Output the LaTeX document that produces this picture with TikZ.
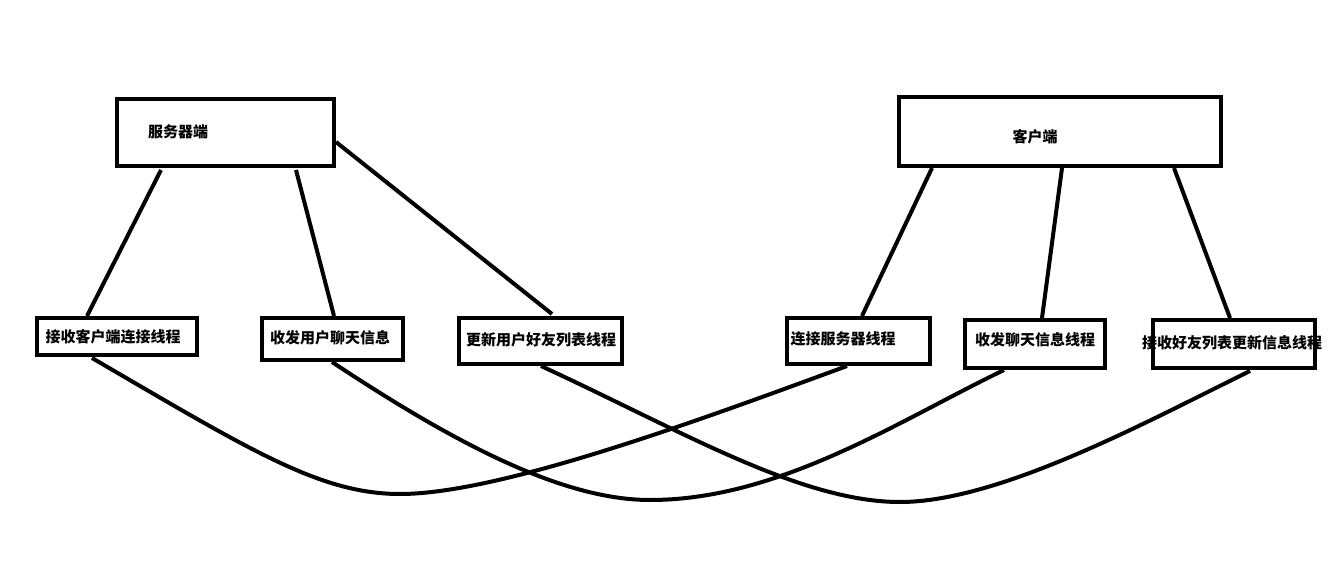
\documentclass[tikz,border=0pt]{standalone}
\usepackage{fontspec}
\setmainfont{Noto Sans CJK SC}
\begin{document}
\begin{tikzpicture}[x=1pt,y=-1pt,line width=4pt,
 box/.style={draw,line width=4pt},
 lbl/.style={font=\fontsize{15}{15}\selectfont\bfseries,inner sep=0pt},
 ln/.style={line width=4pt}]
\useasboundingbox (0,0) rectangle (1338,577);
\draw[box] (117,99) rectangle (334,166);
\draw[box] (899,97) rectangle (1221,166);
\draw[box] (37,318) rectangle (197,355);
\draw[box] (262,318) rectangle (403,360);
\draw[box] (459,318) rectangle (622,364);
\draw[box] (787,318) rectangle (930,364);
\draw[box] (965,320) rectangle (1105,368);
\draw[box] (1153,320) rectangle (1315,368);
\node[lbl] (s) at (178,132) {服务器端};
\node[lbl] (c) at (1035,137) {客户端};
\node[lbl] (b1) at (113,337) {接收客户端连接线程};
\node[lbl] (b2) at (330,338) {收发用户聊天信息};
\node[lbl] (b3) at (541,340) {更新用户好友列表线程};
\node[lbl] (b4) at (843,339) {连接服务器线程};
\node[lbl] (b5) at (1035,340) {收发聊天信息线程};
\node[lbl] (b6) at (1232,343) {接收好友列表更新信息线程};
\coordinate (s1) at (161,170); \coordinate (t1) at (87,316);
\coordinate (s2) at (296,170); \coordinate (t2) at (334,316);
\coordinate (s3) at (336,142); \coordinate (t3) at (552,314);
\coordinate (c1) at (932,168); \coordinate (u1) at (862,316);
\coordinate (c2) at (1062,168); \coordinate (u2) at (1042,318);
\coordinate (c3) at (1174,168); \coordinate (u3) at (1230,318);
\draw[ln] (s1)--(t1); \draw[ln] (s2)--(t2); \draw[ln] (s3)--(t3);
\draw[ln] (c1)--(u1); \draw[ln] (c2)--(u2); \draw[ln] (c3)--(u3);
\coordinate (p1) at (92,358); \coordinate (q1) at (847,366);
\coordinate (p2) at (332,362); \coordinate (q2) at (1004,370);
\coordinate (p3) at (541,366); \coordinate (q3) at (1250,371);
\draw[ln] (p1) .. controls (250,450) and (320,494) .. (400,494) .. controls (500,494) and (700,420) .. (q1);
\draw[ln] (p2) .. controls (450,440) and (560,500) .. (650,500) .. controls (780,500) and (900,420) .. (q2);
\draw[ln] (p3) .. controls (680,430) and (800,502) .. (900,502) .. controls (1000,502) and (1150,420) .. (q3);
\end{tikzpicture}
\end{document}
